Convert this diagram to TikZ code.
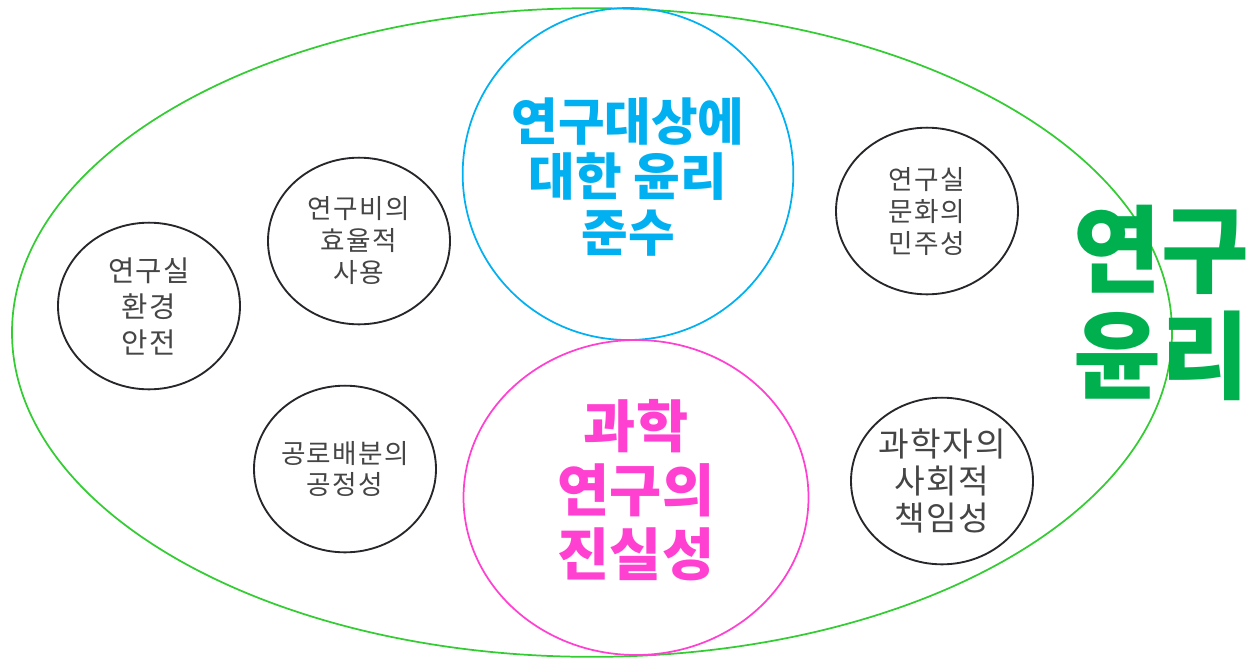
\documentclass[tikz,border=0pt]{standalone}
\usepackage{fontspec}
\setmainfont{Noto Sans CJK KR}
\newfontfamily\smallkr[LetterSpace=5]{Noto Sans CJK KR}
\usepackage{tikz}
\usetikzlibrary{shapes.geometric}
\usepackage{xcolor}

\begin{document}
\begin{tikzpicture}[line cap=round,line join=round,x=0.75pt,y=-0.75pt]
\definecolor{qqccqq}{rgb}{0.2,0.8,0.2}
\definecolor{qqbbtt}{rgb}{0,0.69,0.31}
\definecolor{qqbbff}{rgb}{0,0.69,0.94}
\definecolor{ffttdd}{rgb}{1,0.25,0.82}
\definecolor{ddddee}{rgb}{0.15,0.15,0.17}
\definecolor{uuuuuu}{rgb}{0.27,0.27,0.27}
\tikzset{
 smallring/.style={ellipse,draw=ddddee,line width=1.4pt,minimum width=136.5pt,minimum height=125pt,inner sep=0pt,align=center,text=uuuuuu},
 bigring/.style={ellipse,line width=1.3pt,inner sep=0pt,align=center}
}
\useasboundingbox (0,0) rectangle (1248,658);
\node [bigring,draw=qqccqq,minimum width=870pt,minimum height=486.5pt] (yunri) at (592,332.5) {};
\node [bigring,draw=qqbbff,minimum width=248pt,minimum height=249pt] (daesang) at (628,174) {};
\node [text=qqbbff,align=center,inner sep=0pt,font=\fontsize{38}{41.5}\selectfont\bfseries] (daesangtext) at (628,177) {연구대상에\\대한 윤리\\준수};
\node [bigring,draw=ffttdd,minimum width=258.75pt,minimum height=236.25pt] (jinsil) at (636,497.5) {};
\node [text=ffttdd,align=center,inner sep=0pt,font=\fontsize{42.5}{48}\selectfont\bfseries] (jinsiltext) at (636,490) {과학\\연구의\\진실성};
\node [smallring,font=\smallkr\fontsize{21.5}{27}\selectfont] (anjeon) at (149,306) {연구실\\환경\\안전};
\node [smallring,font=\smallkr\fontsize{20}{24}\selectfont] (yeongubi) at (359,241) {연구비의\\효율적\\사용};
\node [smallring,font=\smallkr\fontsize{20}{23.5}\selectfont] (gongro) at (345,469) {공로배분의\\공정성};
\node [smallring,font=\smallkr\fontsize{20}{24}\selectfont] (munhwa) at (927,211) {연구실\\문화의\\민주성};
\node [smallring,font=\smallkr\fontsize{25}{28}\selectfont] (chaegim) at (942,481) {과학자의\\사회적\\책임성};
\node [text=qqbbtt,align=center,inner sep=0pt,font=\fontsize{71.5}{79}\selectfont\bfseries] (title) at (1161,303) {연구\\윤리};
\end{tikzpicture}
\end{document}
